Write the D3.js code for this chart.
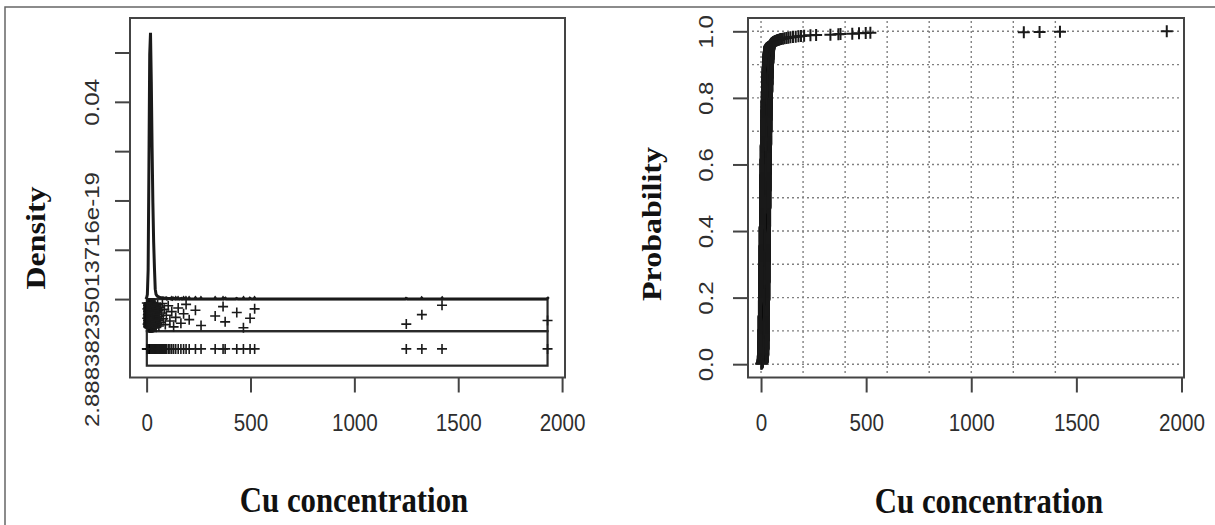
<!DOCTYPE html>
<html>
<head>
<meta charset="utf-8">
<script src="https://cdn.jsdelivr.net/npm/d3@7"></script>
<style>
  body { margin: 0; background: #fff; }
  svg { display: block; }
  .tick-label { font-family: "Liberation Sans", Arial, sans-serif; font-size: 24px; fill: #2e2e2e; }
  .axis-title { font-family: "Liberation Serif", "Times New Roman", serif; font-weight: bold; fill: #111; }
</style>
</head>
<body>
<svg id="chart" width="1215" height="525"></svg>
<script>
// Cu concentrations: body of the sample as a frequency table, tail listed one by one
const cuLevels = [1, 3, 4, 5, 6, 7, 8, 9, 10, 11, 12, 13, 14, 15, 16, 17, 18, 19, 20,
  21, 22, 23, 24, 25, 26, 27, 28, 29, 30, 31, 32, 33, 34, 35, 36, 37, 38, 39, 40];
const cuCounts = [1, 1, 1, 1, 1, 3, 6, 11, 18, 26, 34, 41, 47, 52, 55, 56, 56, 55, 52,
  49, 46, 42, 39, 35, 31, 28, 25, 22, 19, 17, 15, 13, 11, 9, 8, 7, 6, 5, 4];
const cuTail = [41, 42, 43, 44, 45, 46, 47, 48, 50, 51, 53, 55, 57, 59, 62, 65, 68, 72, 76, 80,
  85, 90, 95, 104, 112, 121, 130, 140, 152, 165, 178, 190, 205, 235, 262, 330, 368, 378,
  434, 466, 498, 520, 1250, 1325, 1422, 1930];

const xTicks = [0, 500, 1000, 1500, 2000];
const densityTicks = [0, 0.01, 0.02, 0.03, 0.04, 0.05];
const densityTickLabels = ['2.88838235013716e-19', '', '', '', '0.04', ''];
const probTicks = [0, 0.2, 0.4, 0.6, 0.8, 1.0];
const probTickLabels = ['0.0', '0.2', '0.4', '0.6', '0.8', '1.0'];
const probGrid = [0, 0.1, 0.2, 0.3, 0.4, 0.5, 0.6, 0.7, 0.8, 0.9, 1.0];
const cuGrid = [0, 200, 400, 600, 800, 1000, 1200, 1400];

const svg = d3.select('#chart');
const ink = '#1a1a1a';
const frame = '#444';

const samples = cuLevels.flatMap((v, i) => d3.range(cuCounts[i]).map(() => v))
  .concat(cuTail).sort(d3.ascending);
const n = samples.length;

// gaussian kernel density, bandwidth like R's bw.nrd0
const iqr = d3.quantile(samples, 0.75) - d3.quantile(samples, 0.25);
const bw = 0.9 * Math.min(d3.deviation(samples), iqr / 1.34) * Math.pow(n, -0.2);
const lo = d3.min(samples) - 3 * bw, hi = d3.max(samples) + 3 * bw;
const kde = d3.range(512).map(i => {
  const g = lo + (hi - lo) * i / 511;
  const s = d3.sum(samples, v => Math.exp(-0.5 * ((g - v) / bw) ** 2));
  return [g, s / (n * bw * Math.sqrt(2 * Math.PI))];
});

const plus = s => `M${-s},0H${s}M0,${-s}V${s}`;

// outer frame
svg.append('path').attr('d', 'M5,525V7H1215')
  .attr('fill', 'none').attr('stroke', '#666').attr('stroke-width', 1.5);

function bottomAxis(g, scale) {
  g.call(d3.axisBottom(scale).tickValues(xTicks).tickSize(15).tickPadding(21).tickFormat(d3.format('d')));
  g.attr('font-size', null).attr('font-family', null);
  g.select('.domain').remove();
  g.selectAll('.tick line').attr('stroke', frame).attr('stroke-width', 2);
  g.selectAll('.tick text').attr('class', 'tick-label').attr('transform', 'scale(0.86,1)');
}

function leftAxis(g, scale, ticks, labels, offset) {
  g.call(d3.axisLeft(scale).tickValues(ticks).tickSize(15).tickFormat((d, i) => labels[i]));
  g.attr('font-size', null).attr('font-family', null);
  g.select('.domain').remove();
  g.selectAll('.tick line').attr('stroke', frame).attr('stroke-width', 2);
  g.selectAll('.tick text').attr('class', 'tick-label')
    .attr('x', 0).attr('y', 0).attr('dy', '0.35em')
    .attr('text-anchor', 'middle')
    .attr('transform', `translate(${offset},0) scale(0.86,1) rotate(-90)`);
}

function title(x, y, text, size, rotated) {
  svg.append('text').attr('class', 'axis-title')
    .attr('font-size', size)
    .attr('text-anchor', 'middle')
    .attr('dy', rotated ? '0.33em' : 0)
    .attr('transform', `translate(${x},${y}) scale(0.88,1)` + (rotated ? ' rotate(-90)' : ''))
    .text(text);
}

// ---- left panel: density with strip of points ----
const box = { top: 18, bottom: 377.5 };
const xL = d3.scaleLinear().domain([-80, 2014]).range([130, 565]);
const yL = d3.scaleLinear().domain([-0.0159, 0.0570]).range([box.bottom, box.top]);
const band1 = -0.0065, band2 = -0.0135, rowY = -0.0101;

const left = svg.append('g');
left.append('rect')
  .attr('x', xL.range()[0]).attr('y', box.top)
  .attr('width', xL.range()[1] - xL.range()[0]).attr('height', box.bottom - box.top)
  .attr('fill', 'none').attr('stroke', frame).attr('stroke-width', 2);

[[0, band1], [band1, band2]].forEach(([a, b]) => {
  left.append('rect')
    .attr('x', xL(samples[0])).attr('y', yL(a))
    .attr('width', xL(samples[n - 1]) - xL(samples[0])).attr('height', yL(b) - yL(a))
    .attr('fill', 'none').attr('stroke', '#2a2a2a').attr('stroke-width', 2.2);
});

left.append('path').datum(kde)
  .attr('fill', 'none').attr('stroke', ink).attr('stroke-width', 3)
  .attr('d', d3.line().x(d => xL(d[0])).y(d => yL(d[1])));

// jittered row
left.append('g').selectAll('path').data(samples).join('path')
  .attr('d', plus(5))
  .attr('transform', (d, i) => `translate(${xL(d)},${yL(-0.0008 - 0.005 * ((i * 0.618034) % 1))})`)
  .attr('stroke', ink).attr('stroke-width', 1.6).attr('fill', 'none');

// plain row
left.append('g').selectAll('path').data(samples).join('path')
  .attr('d', plus(5))
  .attr('transform', d => `translate(${xL(d)},${yL(rowY)})`)
  .attr('stroke', ink).attr('stroke-width', 1.6).attr('fill', 'none');

bottomAxis(left.append('g').attr('transform', `translate(0,${box.bottom})`), xL);
leftAxis(left.append('g').attr('transform', `translate(${xL.range()[0]},0)`), yL, densityTicks, densityTickLabels, -38);

title(36, 238, 'Density', 32, true);
title(354, 512, 'Cu concentration', 35, false);

// ---- right panel: empirical cumulative probability ----
const xR = d3.scaleLinear().domain([-62, 2012]).range([748, 1184]);
const yR = d3.scaleLinear().domain([-0.04, 1.04]).range([box.bottom, box.top]);

const right = svg.append('g');

right.append('g').selectAll('line').data(probGrid).join('line')
  .attr('x1', xR.range()[0] + 4).attr('x2', xR.range()[1] - 4)
  .attr('y1', d => yR(d)).attr('y2', d => yR(d))
  .attr('stroke', '#808080').attr('stroke-width', 1.4).attr('stroke-dasharray', '2,3');

right.append('g').selectAll('line').data(cuGrid).join('line')
  .attr('x1', d => xR(d)).attr('x2', d => xR(d))
  .attr('y1', box.top + 3).attr('y2', box.bottom - 3)
  .attr('stroke', '#808080').attr('stroke-width', 1.4).attr('stroke-dasharray', '2,3');

right.append('g').selectAll('path').data(samples).join('path')
  .attr('d', plus(6))
  .attr('transform', (d, i) => `translate(${xR(d)},${yR((i + 1) / n)})`)
  .attr('stroke', ink).attr('stroke-width', 2).attr('fill', 'none');

right.append('rect')
  .attr('x', xR.range()[0]).attr('y', box.top)
  .attr('width', xR.range()[1] - xR.range()[0]).attr('height', box.bottom - box.top)
  .attr('fill', 'none').attr('stroke', frame).attr('stroke-width', 2);

bottomAxis(right.append('g').attr('transform', `translate(0,${box.bottom})`), xR);
leftAxis(right.append('g').attr('transform', `translate(${xR.range()[0]},0)`), yR, probTicks, probTickLabels, -42);

title(652, 224, 'Probability', 32, true);
title(989, 513, 'Cu concentration', 35, false);
</script>
</body>
</html>
